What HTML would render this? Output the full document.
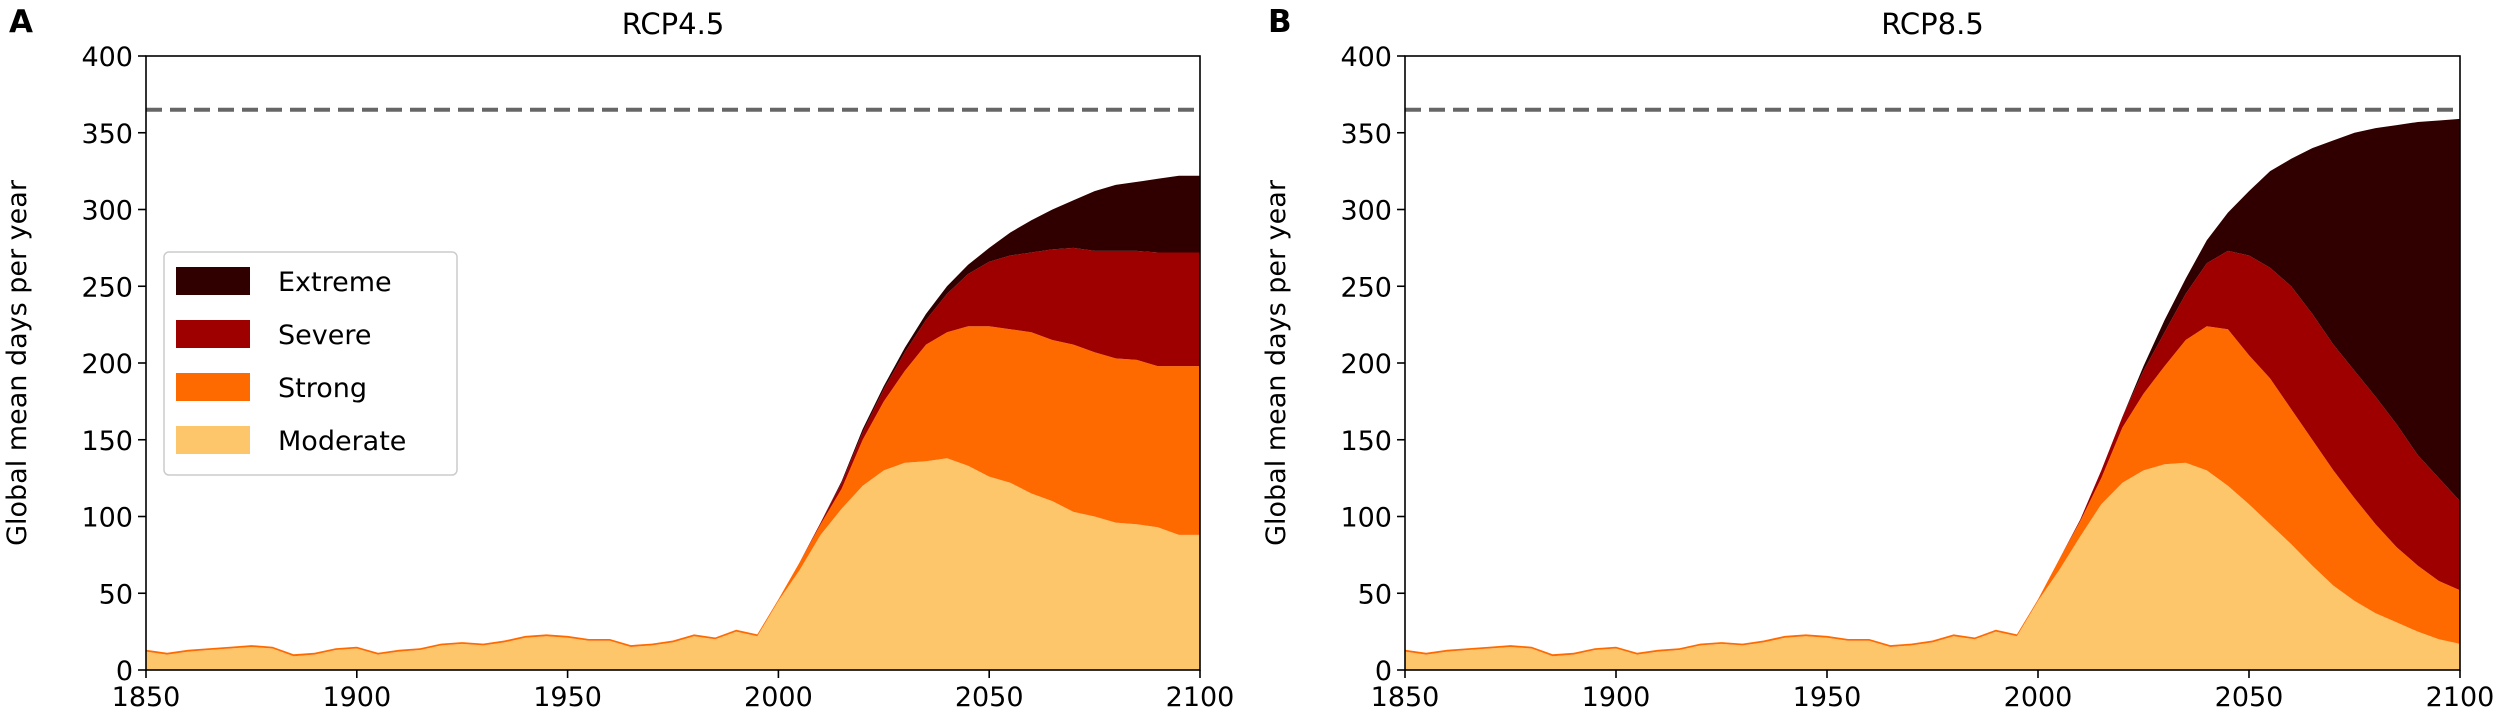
<!DOCTYPE html>
<html><head><meta charset="utf-8"><style>
html,body{margin:0;padding:0;background:#fff;}
svg{display:block;font-family:"DejaVu Sans","Liberation Sans",sans-serif;}
</style></head><body>
<svg id="chart" width="2500" height="725" viewBox="0 0 2500 725" xmlns="http://www.w3.org/2000/svg"></svg>
<script>
const years = [1850,1855,1860,1865,1870,1875,1880,1885,1890,1895,1900,1905,1910,1915,1920,1925,1930,1935,1940,1945,1950,1955,1960,1965,1970,1975,1980,1985,1990,1995,2000,2005,2010,2015,2020,2025,2030,2035,2040,2045,2050,2055,2060,2065,2070,2075,2080,2085,2090,2095,2100];
const histModerate = [12,10,12,13,14,15,14,9,10,13,14,10,12,13,16,17,16,18,21,22,21,19,19,15,16,18,22,20,25,22];
const rcp45Moderate = [45,65,88,105,120,130,135,136,138,133,126,122,115,110,103,100,96,95,93,88,88];
const rcp45Strong = [46,70,95,118,150,175,195,212,220,224,224,222,220,215,212,207,203,202,198,198,198];
const rcp45Severe = [46,70,96,122,155,183,207,228,245,258,266,270,272,274,275,273,273,273,272,272,272];
const rcp45Extreme = [46,70,96,123,157,185,210,232,250,264,275,285,293,300,306,312,316,318,320,322,322];
const rcp85Moderate = [45,65,87,108,122,130,134,135,130,120,108,95,82,68,55,45,37,31,25,20,17];
const rcp85Strong = [46,72,97,125,158,180,198,215,224,222,205,190,170,150,130,112,95,80,68,58,52];
const rcp85Severe = [46,72,98,130,165,195,220,245,265,273,270,262,250,232,212,195,178,160,140,125,110];
const rcp85Extreme = [46,72,98,130,165,198,228,255,280,298,312,325,333,340,345,350,353,355,357,358,359];
const xTicks = [1850,1900,1950,2000,2050,2100];
const yTicks = [0,50,100,150,200,250,300,350,400];
const daysPerYear = 365;
const layerNames = ['Moderate','Strong','Severe','Extreme'];
const layerColors = ['#fdc66b','#ff6a00','#9e0000','#300000'];

const NS='http://www.w3.org/2000/svg';
const svg=document.getElementById('chart');
function mk(tag,attrs,parent){const e=document.createElementNS(NS,tag);for(const k in attrs)e.setAttribute(k,attrs[k]);(parent||svg).appendChild(e);return e;}

function panel(x0,x1,letter,title,fut){
  const y0=670,y1=56;
  const xs=v=>x0+(v-1850)/250*(x1-x0);
  const ys=v=>y0-v/400*(y0-y1);
  const g=mk('g',{});
  
  
  const tops=[
    histModerate.concat(fut[0]),
    histModerate.map(v=>v+1.2).concat(fut[1]),
    histModerate.map(v=>v+1.2).concat(fut[2]),
    histModerate.map(v=>v+1.2).concat(fut[3])];
  for(let L=0;L<4;L++){
    const top=tops[L], bot=L?tops[L-1]:years.map(()=>0);
    let d='M'+years.map((yr,i)=>xs(yr).toFixed(1)+','+ys(top[i]).toFixed(1)).join('L');
    for(let i=years.length-1;i>=0;i--) d+='L'+xs(years[i]).toFixed(1)+','+ys(bot[i]).toFixed(1);
    const p=mk('path',{d:d+'Z',fill:layerColors[L],stroke:'none'},g);
    
    
  }
  const dl=mk('line',{x1:x0,x2:x1,y1:ys(daysPerYear),y2:ys(daysPerYear),stroke:'#666','stroke-width':4,'stroke-dasharray':'16,8'},g);
  
  
  const fr=mk('rect',{x:x0,y:y1,width:x1-x0,height:y0-y1,fill:'none',stroke:'#000','stroke-width':1.6},g);
  
  
  xTicks.forEach(t=>{
    mk('line',{x1:xs(t),x2:xs(t),y1:y0,y2:y0+8,stroke:'#000','stroke-width':1.6},g);
    const tx=mk('text',{x:xs(t),y:y0+36,'text-anchor':'middle','font-size':27},g);
    tx.textContent=t;
    
    
  });
  yTicks.forEach(t=>{
    mk('line',{x1:x0-8,x2:x0,y1:ys(t),y2:ys(t),stroke:'#000','stroke-width':1.6},g);
    const tx=mk('text',{x:x0-13,y:ys(t)+10,'text-anchor':'end','font-size':27},g);
    tx.textContent=t;
    
    
  });
  const yl=mk('text',{x:0,y:0,transform:`translate(${x0-120},${(y0+y1)/2}) rotate(-90)`,'text-anchor':'middle','font-size':27},g);
  yl.textContent='Global mean days per year';
  
  
  const ti=mk('text',{x:(x0+x1)/2,y:34,'text-anchor':'middle','font-size':29},g);
  ti.textContent=title;
  
  
  const lt=mk('text',{x:x0-137,y:32,'font-size':31,'font-weight':'bold'},g);
  lt.textContent=letter;
  
  
}
panel(146,1200,'A','RCP4.5',[rcp45Moderate,rcp45Strong,rcp45Severe,rcp45Extreme]);
panel(1405,2460,'B','RCP8.5',[rcp85Moderate,rcp85Strong,rcp85Severe,rcp85Extreme]);

const lg=mk('g',{});


mk('rect',{x:164,y:252,width:293,height:223,rx:5,fill:'#fff','fill-opacity':0.8,stroke:'#ccc','stroke-width':1.5},lg);
const order=[3,2,1,0];
order.forEach((L,i)=>{
  const cy=281+i*53;
  const e=mk('g',{},lg);
  
  
  mk('rect',{x:176,y:cy-14,width:74,height:28,fill:layerColors[L]},e);
  const t=mk('text',{x:278,y:cy+10,'font-size':27},e);
  t.textContent=layerNames[L];
});
</script>
</body></html>
